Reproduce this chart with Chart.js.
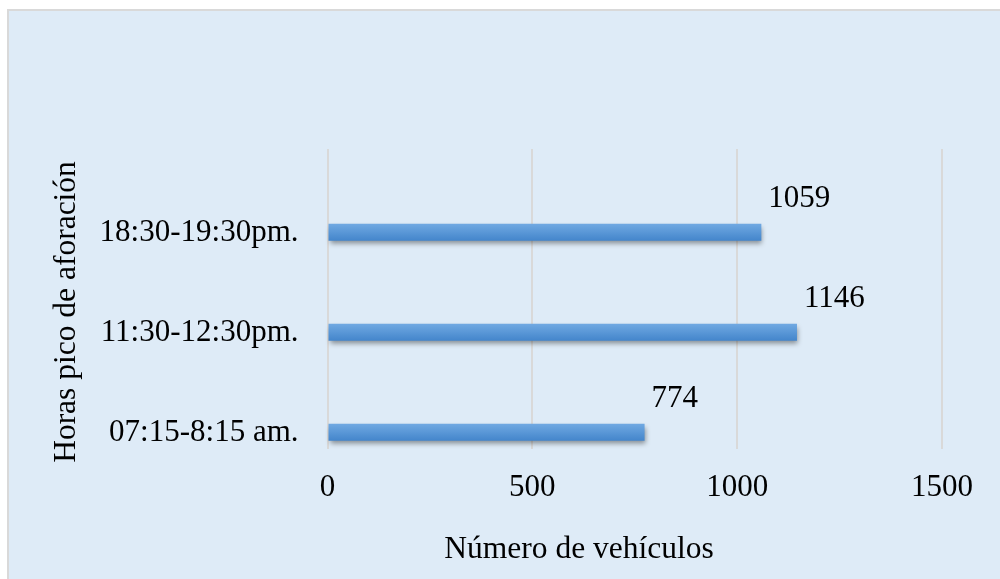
<!DOCTYPE html>
<html>
<head>
<meta charset="utf-8">
<script src="https://cdn.jsdelivr.net/npm/chart.js@4"></script>
<style>
  html, body { margin: 0; padding: 0; background: #fff; }
  canvas { display: block; }
</style>
</head>
<body>
<canvas id="graficoHoras" width="1000" height="579"></canvas>
<script>
const horas = ["18:30-19:30pm.", "11:30-12:30pm.", "07:15-8:15 am."];
const vehiculos = [1059, 1146, 774];
const xMin = 0;
const xMax = 1500;
const xStep = 500;
const tituloX = "Número de vehículos";
const tituloY = "Horas pico de aforación";

const fuente = '"Liberation Serif", "Times New Roman", serif';
Chart.defaults.font.family = fuente;
Chart.defaults.color = "#000";

// empty series so the real bars sit low in each category, like in the original
const vacio = horas.map(() => null);

const fondo = {
  id: "fondo",
  beforeDraw(chart) {
    const ctx = chart.ctx;
    ctx.save();
    ctx.fillStyle = "#fff";
    ctx.fillRect(0, 0, chart.width, chart.height);
    ctx.fillStyle = "#deebf7";
    ctx.fillRect(7, 9, chart.width, chart.height);
    ctx.strokeStyle = "#d9d9d9";
    ctx.lineWidth = 2;
    ctx.beginPath();
    ctx.moveTo(8, chart.height);
    ctx.lineTo(8, 10);
    ctx.lineTo(chart.width, 10);
    ctx.stroke();
    ctx.restore();
  },
};

const barras = {
  id: "barras",
  beforeDatasetDraw(chart, args) {
    if (args.index !== 2) return;
    const ctx = chart.ctx;
    ctx.save();
    ctx.shadowColor = "rgba(0,0,0,0.4)";
    ctx.shadowBlur = 5;
    ctx.shadowOffsetX = 1;
    ctx.shadowOffsetY = 3;
    args.meta.data.forEach((el) => {
      const top = el.y - el.height / 2;
      const g = ctx.createLinearGradient(0, top, 0, top + el.height);
      g.addColorStop(0, "#70a9e2");
      g.addColorStop(1, "#4385cb");
      const orig = el.options;
      el.options = Object.assign({}, orig, { backgroundColor: g });
      el.draw(ctx, chart.chartArea);
      el.options = orig;
    });
    ctx.restore();
    return false;
  },
};

const etiquetas = {
  id: "etiquetas",
  afterDatasetsDraw(chart) {
    const ctx = chart.ctx;
    const meta = chart.getDatasetMeta(2);
    const yScale = chart.scales.y;
    ctx.save();
    ctx.font = "31px " + fuente;
    ctx.fillStyle = "#000";
    ctx.textAlign = "left";
    ctx.textBaseline = "middle";
    meta.data.forEach((el, i) => {
      ctx.fillText(String(vehiculos[i]), el.x + 7, yScale.getPixelForValue(i));
    });

    // axis titles
    ctx.font = "31.5px " + fuente;
    ctx.textAlign = "center";
    ctx.textBaseline = "alphabetic";
    ctx.fillText(tituloX, 579, 558);
    ctx.translate(75, 312);
    ctx.rotate(-Math.PI / 2);
    ctx.fillText(tituloY, 0, 0);
    ctx.restore();
  },
};

new Chart(document.getElementById("graficoHoras"), {
  type: "bar",
  data: {
    labels: horas,
    datasets: [
      { label: "a", data: vacio },
      { label: "b", data: vacio },
      {
        label: "Vehículos",
        data: vehiculos,
        backgroundColor: "#5a98d8",
        borderWidth: 0,
      },
    ],
  },
  options: {
    indexAxis: "y",
    responsive: false,
    animation: false,
    layout: { padding: { top: 149, right: 58, left: 0, bottom: 0 } },
    datasets: {
      bar: { categoryPercentage: 1, barPercentage: 0.51 },
    },
    plugins: {
      legend: { display: false },
      tooltip: { enabled: false },
    },
    scales: {
      x: {
        min: xMin,
        max: xMax,
        ticks: {
          stepSize: xStep,
          padding: 20,
          font: { size: 31 },
          callback: (value) => String(value),
        },
        grid: { color: "#d9d9d9", lineWidth: 2, drawTicks: false },
        border: { display: false },
        afterFit(scale) {
          scale.height = 130;
        },
      },
      y: {
        ticks: { padding: 29, labelOffset: 34, font: { size: 31 } },
        grid: { display: false, drawTicks: false },
        border: { display: false },
        afterFit(scale) {
          scale.width = 327.5;
        },
      },
    },
  },
  plugins: [fondo, barras, etiquetas],
});
</script>
</body>
</html>
